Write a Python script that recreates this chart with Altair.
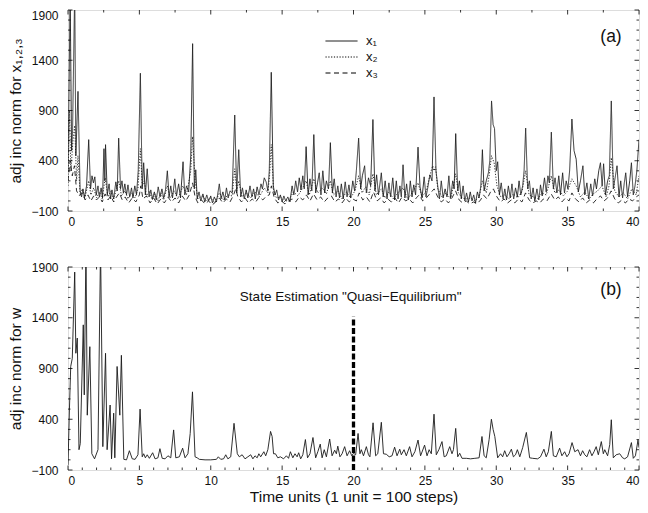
import altair as alt
import pandas as pd

FONT = "Liberation Sans, Arial, DejaVu Sans, sans-serif"

# ---------------- data ----------------
X1 = [(0.0,300),(0.08,1200),(0.15,2100),(0.25,500),(0.32,700),(0.47,2100),(0.55,450),(0.7,1090),
(0.85,100),(0.95,40),(1.05,120),(1.15,30),(1.3,150),(1.45,610),(1.58,120),(1.68,250),(1.78,180),
(1.88,240),(1.98,60),(2.1,150),(2.2,40),(2.32,130),(2.42,30),(2.52,520),(2.58,200),(2.63,560),
(2.75,60),(2.88,170),(2.98,20),(3.08,110),(3.2,20),(3.35,190),(3.45,100),(3.55,625),(3.68,120),
(3.78,200),(3.88,80),(3.98,170),(4.1,60),(4.2,160),(4.32,40),(4.45,130),(4.55,30),(4.68,150),
(4.8,60),(4.92,300),(5.07,1270),(5.2,120),(5.3,380),(5.42,60),(5.55,320),(5.68,40),(5.8,110),
(5.92,20),(6.05,90),(6.18,10),(6.32,140),(6.45,40),(6.58,120),(6.7,30),(6.82,100),(6.96,300),
(7.08,40),(7.2,150),(7.32,30),(7.48,220),(7.6,50),(7.75,170),(7.88,30),(8.06,390),(8.18,60),
(8.3,150),(8.45,90),(8.6,450),(8.73,1565),(8.85,120),(8.95,310),(9.05,20),(9.18,90),(9.3,0),
(9.45,70),(9.58,-10),(9.72,60),(9.85,0),(10.0,50),(10.12,-20),(10.25,40),(10.4,-10),(10.6,170),
(10.72,20),(10.85,90),(10.98,10),(11.1,130),(11.22,30),(11.35,100),(11.5,80),(11.68,855),
(11.82,80),(11.96,510),(12.1,40),(12.22,130),(12.35,20),(12.48,110),(12.6,30),(12.75,150),
(12.88,40),(13.0,120),(13.12,20),(13.25,140),(13.38,60),(13.52,170),(13.62,120),(13.75,230),
(13.88,190),(14.0,100),(14.1,300),(14.24,1280),(14.38,150),(14.5,60),(14.62,110),(14.75,10),
(14.88,60),(15.0,-10),(15.12,50),(15.25,0),(15.4,40),(15.55,-10),(15.7,150),(15.82,60),
(15.95,200),(16.08,90),(16.2,230),(16.32,110),(16.45,250),(16.55,120),(16.68,540),(16.82,60),
(16.95,220),(17.08,100),(17.22,660),(17.35,80),(17.48,180),(17.6,280),(17.72,60),(17.85,300),
(17.98,80),(18.1,200),(18.25,120),(18.38,580),(18.52,80),(18.65,220),(18.78,40),(18.9,150),
(19.02,30),(19.15,170),(19.28,20),(19.42,190),(19.55,40),(19.68,160),(19.8,30),(19.95,200),
(20.08,100),(20.2,300),(20.36,625),(20.5,120),(20.62,250),(20.78,350),(20.9,80),(21.05,230),
(21.2,150),(21.36,810),(21.5,100),(21.62,260),(21.75,60),(21.95,280),(22.08,40),(22.22,200),
(22.35,20),(22.48,180),(22.6,40),(22.75,230),(22.88,10),(23.0,200),(23.12,20),(23.25,150),
(23.35,40),(23.47,360),(23.6,30),(23.72,170),(23.85,10),(23.98,200),(24.1,40),(24.22,160),
(24.35,60),(24.52,535),(24.66,140),(24.8,30),(24.95,240),(25.08,40),(25.2,130),(25.35,260),
(25.5,200),(25.64,1035),(25.78,300),(25.9,150),(26.02,20),(26.15,200),(26.28,30),(26.42,120),
(26.55,40),(26.68,250),(26.8,30),(26.95,200),(27.05,120),(27.16,670),(27.3,100),(27.42,200),
(27.55,20),(27.68,150),(27.8,0),(27.92,80),(28.05,-10),(28.18,90),(28.3,0),(28.42,60),
(28.55,-20),(28.68,90),(28.8,30),(28.92,150),(29.03,510),(29.15,100),(29.3,200),(29.45,280),
(29.55,400),(29.67,995),(29.78,760),(29.88,720),(30.0,300),(30.1,390),(30.22,60),(30.35,180),
(30.48,20),(30.6,120),(30.72,10),(30.85,150),(30.98,30),(31.1,170),(31.22,20),(31.35,130),
(31.48,40),(31.6,200),(31.72,60),(31.85,150),(31.95,300),(32.06,725),(32.2,120),(32.32,200),
(32.45,20),(32.58,130),(32.7,0),(32.85,120),(32.98,10),(33.1,160),(33.22,50),(33.38,230),
(33.5,90),(33.62,250),(33.72,180),(33.86,685),(34.0,120),(34.12,230),(34.25,80),(34.38,250),
(34.5,60),(34.65,280),(34.78,80),(34.9,200),(35.02,120),(35.14,300),(35.3,815),(35.45,500),
(35.6,415),(35.75,90),(35.9,200),(36.07,350),(36.2,60),(36.35,180),(36.48,20),(36.62,170),
(36.75,50),(36.9,220),(37.02,120),(37.18,300),(37.3,380),(37.42,150),(37.52,370),(37.65,60),
(37.8,200),(37.92,250),(38.06,995),(38.2,120),(38.35,250),(38.46,350),(38.6,40),(38.72,200),
(38.85,30),(38.97,180),(39.07,280),(39.2,40),(39.35,200),(39.47,380),(39.6,60),(39.72,150),
(39.85,300),(40.0,610)]

X2 = [(0.0,150),(0.1,900),(0.2,300),(0.35,600),(0.47,750),(0.6,200),(0.7,450),(0.85,60),(1.0,120),
(1.2,40),(1.45,200),(1.6,60),(1.8,130),(2.0,30),(2.2,90),(2.4,20),(2.6,230),(2.8,40),(3.0,100),
(3.2,20),(3.55,200),(3.75,50),(4.0,100),(4.2,20),(4.45,80),(4.7,30),(4.9,120),(5.07,520),
(5.2,150),(5.35,200),(5.5,40),(5.7,100),(5.9,10),(6.1,70),(6.3,0),(6.5,80),(6.7,10),(6.96,150),
(7.15,30),(7.45,100),(7.7,20),(8.06,150),(8.3,60),(8.6,300),(8.73,640),(8.9,200),(9.1,20),
(9.4,50),(9.7,0),(10.0,30),(10.3,-20),(10.6,80),(10.9,10),(11.2,60),(11.5,50),(11.68,320),
(11.82,100),(11.96,200),(12.2,40),(12.5,80),(12.8,30),(13.1,90),(13.4,40),(13.75,130),(14.0,80),
(14.12,250),(14.24,560),(14.4,100),(14.6,30),(14.9,40),(15.2,-10),(15.5,20),(15.8,90),(16.1,50),
(16.4,120),(16.68,200),(16.9,60),(17.22,220),(17.5,80),(17.85,130),(18.1,70),(18.38,200),
(18.6,60),(18.9,100),(19.2,20),(19.5,90),(19.8,30),(20.1,100),(20.36,250),(20.6,80),(20.85,140),
(21.1,60),(21.36,270),(21.6,60),(21.95,120),(22.2,30),(22.5,90),(22.8,20),(23.1,80),(23.47,130),
(23.8,20),(24.1,80),(24.52,180),(24.8,40),(25.1,100),(25.4,280),(25.55,350),(25.64,300),
(25.75,340),(25.9,120),(26.2,40),(26.5,80),(26.8,20),(27.0,150),(27.16,270),(27.35,80),(27.6,30),
(27.9,20),(28.2,30),(28.5,0),(28.8,40),(29.03,200),(29.3,80),(29.5,250),(29.67,450),(29.85,380),
(30.05,150),(30.3,40),(30.6,60),(30.9,20),(31.2,70),(31.5,30),(31.8,90),(32.06,300),(32.3,60),
(32.6,40),(32.9,20),(33.2,80),(33.5,60),(33.86,250),(34.1,80),(34.4,110),(34.7,50),(35.0,100),
(35.3,220),(35.6,150),(35.9,40),(36.2,90),(36.5,20),(36.8,70),(37.1,100),(37.4,150),(37.7,40),
(37.9,150),(38.06,430),(38.3,100),(38.6,40),(38.9,80),(39.2,20),(39.5,120),(39.8,60),(40.0,250)]

X3 = [(0.0,200),(0.15,400),(0.3,250),(0.45,350),(0.6,100),(0.8,50),(1.0,80),(1.2,10),(1.4,60),
(1.6,0),(1.8,50),(2.0,10),(2.2,40),(2.4,-10),(2.6,70),(2.8,10),(3.0,50),(3.2,-10),(3.4,40),
(3.6,80),(3.8,10),(4.0,40),(4.25,-20),(4.5,30),(4.75,-10),(5.0,60),(5.1,150),(5.25,20),(5.5,50),
(5.75,-20),(6.0,30),(6.25,-30),(6.5,20),(6.75,-20),(7.0,40),(7.25,-10),(7.5,30),(7.75,-20),
(8.0,50),(8.25,0),(8.5,60),(8.73,180),(8.9,40),(9.1,-20),(9.35,10),(9.6,-30),(9.85,0),(10.1,-40),
(10.35,-10),(10.6,30),(10.85,-20),(11.1,20),(11.35,-10),(11.6,60),(11.75,120),(11.9,40),
(12.15,-10),(12.4,30),(12.65,-20),(12.9,20),(13.15,-10),(13.4,40),(13.65,10),(13.9,50),(14.1,60),
(14.25,150),(14.45,30),(14.7,-20),(14.95,0),(15.2,-30),(15.45,0),(15.7,20),(15.95,-10),(16.2,40),
(16.45,10),(16.7,60),(16.95,0),(17.2,70),(17.45,10),(17.7,40),(17.95,-10),(18.2,30),(18.45,50),
(18.7,-10),(18.95,20),(19.2,-20),(19.45,30),(19.7,-10),(19.95,20),(20.2,0),(20.4,80),(20.65,10),
(20.9,40),(21.15,-10),(21.4,90),(21.65,0),(21.9,30),(22.15,-20),(22.4,20),(22.65,-10),(22.9,30),
(23.15,-20),(23.4,40),(23.65,0),(23.9,20),(24.15,-20),(24.4,30),(24.6,60),(24.85,0),(25.1,30),
(25.4,80),(25.65,120),(25.9,40),(26.15,-10),(26.4,20),(26.65,-20),(26.9,30),(27.15,100),
(27.4,10),(27.65,-20),(27.9,0),(28.15,-30),(28.4,-10),(28.65,-30),(28.9,10),(29.1,60),(29.35,20),
(29.6,90),(29.8,120),(30.05,40),(30.3,-10),(30.55,20),(30.8,-20),(31.05,10),(31.3,-20),
(31.55,20),(31.8,-10),(32.05,80),(32.3,10),(32.55,-20),(32.8,0),(33.05,-20),(33.3,20),(33.55,0),
(33.85,70),(34.1,10),(34.35,40),(34.6,-10),(34.85,30),(35.1,0),(35.3,80),(35.55,20),(35.8,-10),
(36.05,30),(36.3,-20),(36.55,10),(36.8,-20),(37.05,20),(37.3,50),(37.55,0),(37.8,30),(38.05,100),
(38.3,20),(38.55,-20),(38.8,10),(39.05,-20),(39.3,20),(39.55,0),(39.8,40),(40.0,60)]

W = [(0.0,-50),(0.1,500),(0.19,920),(0.3,1000),(0.47,1850),(0.55,1050),(0.65,1200),(0.77,100),
(0.86,160),(1.07,1330),(1.14,640),(1.26,2100),(1.35,440),(1.53,1115),(1.67,60),(1.86,10),
(2.1,100),(2.28,2100),(2.44,130),(2.63,1050),(2.74,100),(2.95,540),(3.05,10),(3.2,460),(3.28,20),
(3.44,920),(3.63,440),(3.74,1030),(3.91,5),(4.1,0),(4.3,90),(4.5,10),(4.7,5),(4.9,50),(5.05,500),
(5.2,30),(5.3,60),(5.42,20),(5.55,50),(5.7,15),(5.93,70),(6.1,10),(6.3,20),(6.44,110),(6.6,15),
(6.8,10),(7.0,40),(7.2,20),(7.4,295),(7.55,20),(7.8,30),(8.03,115),(8.2,20),(8.4,60),(8.56,260),
(8.72,670),(8.9,30),(9.05,20),(9.2,5),(9.6,0),(10.0,0),(10.4,5),(10.53,30),(10.7,5),(10.9,10),
(11.05,50),(11.2,10),(11.4,30),(11.63,360),(11.86,60),(12.0,30),(12.2,50),(12.4,10),(12.6,30),
(12.8,50),(12.95,10),(13.1,40),(13.25,20),(13.37,60),(13.5,30),(13.72,80),(13.85,40),(14.0,100),
(14.19,280),(14.3,230),(14.4,60),(14.53,60),(14.7,20),(14.88,30),(15.1,10),(15.3,40),(15.45,15),
(15.58,80),(15.75,20),(15.9,60),(16.05,30),(16.16,70),(16.3,10),(16.45,50),(16.63,200),
(16.78,20),(16.95,60),(17.16,220),(17.35,20),(17.5,80),(17.67,155),(17.8,20),(17.95,100),
(18.1,30),(18.33,205),(18.5,40),(18.68,95),(18.8,60),(18.9,135),(19.05,30),(19.2,60),(19.38,130),
(19.55,40),(19.73,90),(19.88,40),(20.0,65),(20.15,50),(20.32,260),(20.45,60),(20.55,100),
(20.7,40),(20.9,130),(21.05,50),(21.15,30),(21.37,365),(21.55,40),(21.7,60),(21.95,370),
(22.1,60),(22.3,55),(22.5,30),(22.7,40),(22.88,125),(23.05,40),(23.24,105),(23.35,50),
(23.54,100),(23.7,40),(23.93,130),(24.1,30),(24.3,80),(24.52,195),(24.7,40),(24.98,145),
(25.15,40),(25.3,100),(25.45,60),(25.64,450),(25.8,50),(25.98,100),(26.2,180),(26.35,30),
(26.5,40),(26.74,130),(26.9,60),(27.0,100),(27.16,310),(27.3,30),(27.44,65),(27.6,15),(27.9,15),
(28.2,10),(28.5,15),(28.8,20),(29.0,230),(29.15,40),(29.3,20),(29.5,200),(29.66,400),(29.78,300),
(29.9,230),(30.1,20),(30.3,60),(30.45,30),(30.59,90),(30.75,30),(30.9,60),(31.06,105),(31.2,30),
(31.35,50),(31.48,100),(31.65,30),(31.85,120),(32.11,270),(32.34,20),(32.55,15),(32.9,10),
(33.1,30),(33.34,105),(33.5,30),(33.65,80),(33.86,280),(34.0,40),(34.2,30),(34.44,115),(34.6,40),
(34.79,80),(34.95,30),(35.1,60),(35.31,170),(35.5,80),(35.73,100),(35.9,40),(36.05,90),(36.2,50),
(36.35,30),(36.54,100),(36.7,40),(36.85,80),(37.0,130),(37.15,50),(37.36,180),(37.5,60),
(37.6,100),(37.8,40),(37.95,150),(38.06,395),(38.2,20),(38.4,50),(38.65,60),(38.85,20),(39.0,10),
(39.2,30),(39.47,170),(39.6,15),(39.75,40),(39.93,195),(40.0,120)]

SERIES = ["x\u2081", "x\u2082", "x\u2083"]
Y_LABELS = [-100, 400, 900, 1400, 1900]
X_LABELS = [0, 5, 10, 15, 20, 25, 30, 35, 40]
Y_MINOR = [v for v in range(-100, 1901, 100) if v not in Y_LABELS]
X_MINOR_A = [2.5, 7.5, 12.5, 17.5, 22.5, 27.5, 32.5, 37.5]
X_MINOR_B = [v for v in range(0, 41) if v % 5 != 0]
REF_T, REF_BOTTOM, REF_TOP = 20, -100, 1410
ANNOT = "State Estimation \"Quasi\u2212Equilibrium\""
ANNOT_T, ANNOT_V = 19.8, 1605

# ---------------- frames ----------------
rows = []
for name, pts in zip(SERIES, [X1, X2, X3]):
    for t, v in pts:
        rows.append({"t": t, "v": v, "series": name})
df_a = pd.DataFrame(rows)
df_b = pd.DataFrame({"t": [p[0] for p in W], "v": [p[1] for p in W]})

WIDTH = 571
HA, HB = 201, 203
XSCALE = alt.Scale(domain=[0, 40], nice=False, zero=False)
YSCALE = alt.Scale(domain=[-100, 1900], nice=False, zero=False)
TITLE_STYLE = dict(titleFont=FONT, titleFontSize=15.5, titleFontWeight="normal", titleColor="#111")
LABEL_STYLE = dict(labelFont=FONT, labelFontSize=12, labelColor="#111", grid=False, domain=False,
                   ticks=False, tickSize=0)


def x_enc(title):
    if title:
        ax = alt.Axis(values=X_LABELS, labelPadding=5, title=title, titlePadding=3,
                      **TITLE_STYLE, **LABEL_STYLE)
    else:
        ax = alt.Axis(values=X_LABELS, labelPadding=5, title=None, **LABEL_STYLE)
    return alt.X("t:Q", scale=XSCALE, axis=ax)


def y_enc(title, flush_top):
    kw = dict(values=Y_LABELS, format="d", labelPadding=10, title=title, titlePadding=7,
              **TITLE_STYLE, **LABEL_STYLE)
    if flush_top:
        kw["labelBaseline"] = {"condition": {"test": "datum.value == 1900", "value": "top"},
                               "value": "middle"}
    return alt.Y("v:Q", scale=YSCALE, axis=alt.Axis(**kw))


def ticks(xe, ye, x_major, x_minor, H):
    layers = []
    for vals, L in ((Y_LABELS, 4.5), (Y_MINOR, 2.5)):
        c = alt.Chart(pd.DataFrame({"v": vals})).mark_rule(color="black", strokeWidth=0.8)
        layers.append(c.encode(y=ye, x=alt.value(0), x2=alt.value(L)))
        layers.append(c.encode(y=ye, x=alt.value(WIDTH - L), x2=alt.value(WIDTH)))
    for vals, L in ((x_major, 4.5), (x_minor, 2.5)):
        c = alt.Chart(pd.DataFrame({"t": vals})).mark_rule(color="black", strokeWidth=0.8)
        layers.append(c.encode(x=xe, y=alt.value(0), y2=alt.value(L)))
        layers.append(c.encode(x=xe, y=alt.value(H - L), y2=alt.value(H)))
    return layers


# ---------------- panel (a) ----------------
xa = x_enc(None)
ya = y_enc("adj inc norm for x\u2081,\u2082,\u2083", True)
lines_a = alt.Chart(df_a).mark_line(clip=True, strokeWidth=0.9, color="#1a1a1a").encode(
    x=xa, y=ya,
    strokeDash=alt.StrokeDash(
        "series:N",
        scale=alt.Scale(domain=SERIES, range=[[1, 0], [1.2, 1.6], [5, 3.5]]),
        legend=alt.Legend(title=None, orient="none", legendX=257, legendY=23, padding=0,
                          symbolType="stroke", symbolSize=1024, symbolStrokeColor="black",
                          symbolStrokeWidth=1, labelFont=FONT, labelFontSize=13,
                          labelColor="#111", labelOffset=8, clipHeight=16, rowPadding=0),
    ),
)
lab_a = alt.Chart(pd.DataFrame({"k": ["(a)"]})).mark_text(
    font=FONT, fontSize=17.5, color="#111").encode(
    x=alt.value(543), y=alt.value(27), text="k:N")
panel_a = alt.layer(lines_a, *ticks(xa, ya, X_LABELS, X_MINOR_A, HA), lab_a).properties(
    width=WIDTH, height=HA)

# ---------------- panel (b) ----------------
xb = x_enc("Time units (1 unit = 100 steps)")
yb = y_enc("adj inc norm for w", False)
line_b = alt.Chart(df_b).mark_line(clip=True, strokeWidth=0.9, color="#1a1a1a").encode(x=xb, y=yb)
ref = alt.Chart(pd.DataFrame({"t": [REF_T], "v": [REF_BOTTOM], "v2": [REF_TOP]})).mark_rule(
    color="black", strokeWidth=3.3, strokeDash=[6, 2.5]).encode(x=xb, y=yb, y2="v2:Q")
ann = alt.Chart(pd.DataFrame({"t": [ANNOT_T], "v": [ANNOT_V], "k": [ANNOT]})).mark_text(
    font=FONT, fontSize=13.5, color="#111").encode(x=xb, y=yb, text="k:N")
lab_b = alt.Chart(pd.DataFrame({"k": ["(b)"]})).mark_text(
    font=FONT, fontSize=17.5, color="#111").encode(
    x=alt.value(543), y=alt.value(23), text="k:N")
panel_b = alt.layer(line_b, ref, ann, *ticks(xb, yb, X_LABELS, X_MINOR_B, HB), lab_b).properties(
    width=WIDTH, height=HB)

chart = alt.vconcat(panel_a, panel_b, spacing=32).properties(
    padding={"left": 0, "top": 0, "right": 0, "bottom": 0}
).configure_view(stroke="black", strokeWidth=1.1).configure(background="white")

chart.save("out.html", embed_options={"renderer": "svg", "actions": False})
